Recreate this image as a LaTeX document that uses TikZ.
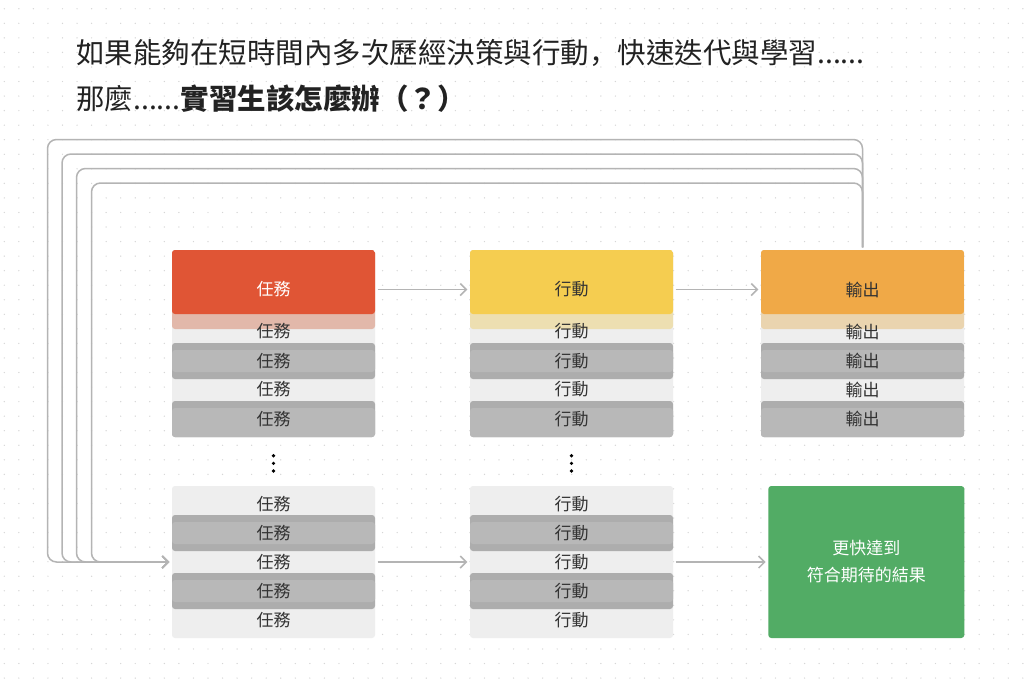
\documentclass[tikz,border=0pt]{standalone}
\usepackage{fontspec}
\setmainfont{Noto Sans CJK TC}
\newfontfamily\commafont{Noto Sans CJK SC}
\usetikzlibrary{arrows.meta}

\definecolor{taskred}{HTML}{E05535}
\definecolor{taskstrip}{HTML}{E2B8AA}
\definecolor{actyellow}{HTML}{F5CD50}
\definecolor{actstrip}{HTML}{EDDFB1}
\definecolor{outorange}{HTML}{F0A947}
\definecolor{outstrip}{HTML}{EAD4AF}
\definecolor{goalgreen}{HTML}{52AC65}
\definecolor{lightgray}{HTML}{EEEEEE}
\definecolor{bandgray}{HTML}{ADADAD}
\definecolor{midgray}{HTML}{B8B8B8}
\definecolor{linegray}{HTML}{B4B4B4}
\definecolor{dotgray}{HTML}{D6D6D6}
\definecolor{labeldark}{HTML}{333333}
\definecolor{titledark}{HTML}{222222}

\newcommand{\labfont}{\fontsize{17}{20}\selectfont}
\newcommand{\titlefont}{\fontsize{28.5}{34}\selectfont}

\tikzset{
  card/.style={rectangle, inner sep=0pt, minimum width=203pt, rounded corners=3pt, font=\labfont},
  stackbase/.style={card, fill=lightgray},
  darkcard/.style={card, minimum height=36pt, fill=bandgray, text=labeldark,
    path picture={\fill[midgray] ([yshift=-7pt]path picture bounding box.north west)
      rectangle ([yshift=7pt]path picture bounding box.south east);}},
  lastcard/.style={darkcard,
    path picture={\fill[midgray] ([yshift=-7pt]path picture bounding box.north west)
      rectangle (path picture bounding box.south east);}},
  lab/.style={inner sep=0pt, font=\labfont, text=labeldark},
  flow/.style={draw=linegray, line width=1.5pt, -{Straight Barb[length=6pt, width=12pt]},
    shorten <=2.5pt, shorten >=2.5pt},
}

\begin{document}
\begin{tikzpicture}[x=1pt, y=-1pt]
\useasboundingbox (0,0) rectangle (1024,691);
\fill[white] (0,0) rectangle (1024,691);
% dotted grid
\foreach \i in {0,...,70}
  \foreach \j in {0,...,46}
    \fill[dotgray] (4.3+14.55*\i, 8.75+14.55*\j) circle (0.7);

% title
\node[anchor=base west, inner sep=0pt, font=\titlefont, text=titledark] (title1) at (76,63)
  {如果能夠在短時間內多次歷經決策與行動{\commafont ，}快速迭代與學習......};
\node[anchor=base west, inner sep=0pt, font=\titlefont, text=titledark] (title2) at (76,109)
  {那麼......\textbf{實習生該怎麼辦（？）}};

% first round: card and the stack below it
\foreach \n/\x/\lab/\main/\strip/\tc in {task/273.5/任務/taskred/taskstrip/white,
                                         act/571.5/行動/actyellow/actstrip/labeldark,
                                         out/862.5/輸出/outorange/outstrip/labeldark}
{
  \node[stackbase, minimum height=137pt] (\n-stack) at (\x,368.5) {};
  \node[darkcard] (\n-row2) at (\x,361) {\lab};
  \node[lastcard] (\n-row4) at (\x,419) {\lab};
  \node[card, minimum height=79pt, fill=\strip, text=\tc,
    path picture={\fill[\main] (path picture bounding box.north west)
      rectangle ([yshift=15pt]path picture bounding box.south east);}] (\n) at (\x,289.5) {\lab};
  \node[lab] (\n-row1) at (\x,331.5) {\lab};
  \node[lab] (\n-row3) at (\x,389.5) {\lab};
}

% vertical ellipses
\foreach \x in {273.5, 571.5}
  \foreach \y in {455.7, 463.3, 471}
    \fill[black] (\x,\y) circle (1.8);

% last round
\foreach \n/\x/\lab in {task/273.5/任務, act/571.5/行動}
{
  \node[stackbase, minimum height=152pt] (\n-low) at (\x,562) {};
  \node[darkcard] (\n-low2) at (\x,533) {\lab};
  \node[darkcard] (\n-low4) at (\x,591) {\lab};
  \node[lab] (\n-low1) at (\x,504) {\lab};
  \node[lab] (\n-low3) at (\x,562) {\lab};
  \node[lab] (\n-low5) at (\x,620) {\lab};
}

\node[card, minimum width=196pt, minimum height=152pt, fill=goalgreen, text=white,
  align=center, font=\fontsize{17}{27}\selectfont] (goal) at (866.3,562)
  {更快達到\\符合期待的結果};

% arrows
\foreach \s/\t in {task/act,
                   act/out,
                   task-low/act-low,
                   act-low/goal}
    \draw[flow] (\s) -- (\t);

% feedback loops
\foreach \y/\x in {139.5/47.5, 154/62, 168.5/76.5, 183/91.5}
    \draw[flow, rounded corners=9pt] (out.north) |- (\x,\y) |- (task-low.west);

\end{tikzpicture}
\end{document}
